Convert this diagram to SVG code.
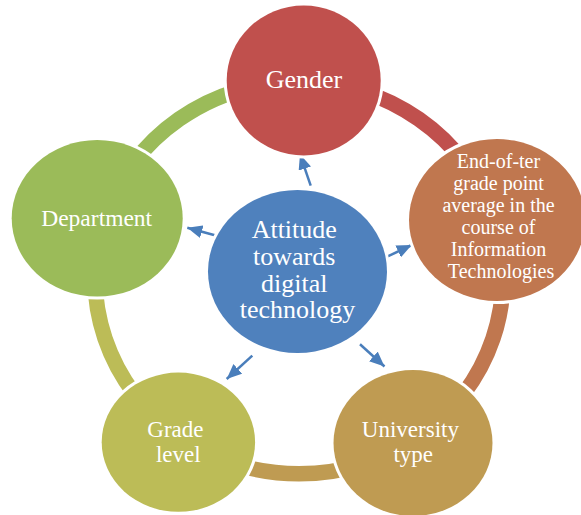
<svg xmlns="http://www.w3.org/2000/svg" width="581" height="515" viewBox="0 0 581 515">
  <style>
    .ring { fill: none; stroke-width: 15.5; stroke-linecap: butt; }
    .node { stroke: #ffffff; stroke-width: 6; paint-order: stroke; }
    .label { fill: #ffffff; font-family: "Liberation Serif", "Times New Roman", serif; text-anchor: middle; }
    .arrow { stroke: #4a7ebb; stroke-width: 2.5; fill: none; marker-end: url(#head); }
  </style>
  <defs>
    <marker id="head" viewBox="0 0 15 13" refX="15" refY="6.5" markerWidth="15" markerHeight="13" markerUnits="userSpaceOnUse" orient="auto">
      <path d="M0,0 L15,6.5 L0,13 Z" fill="#4a7ebb"/>
    </marker>
  </defs>
  <rect width="581" height="515" fill="#ffffff"/>

  <!-- cycle ring: one segment per node, coloured like the node it leaves -->
  <g id="connectors">
    <path class="ring" stroke="#c0504d" d="M299,81.8 A204,196 0 0 1 493,217.2"/>
    <path class="ring" stroke="#c0774f" d="M493,217.2 A204,196 0 0 1 418.9,436.4"/>
    <path class="ring" stroke="#bf9b52" d="M418.9,436.4 A204,196 0 0 1 179.1,436.4"/>
    <path class="ring" stroke="#bcbc57" d="M179.1,436.4 A204,196 0 0 1 105,217.2"/>
    <path class="ring" stroke="#9bbb59" d="M105,217.2 A204,196 0 0 1 299,81.8"/>
    <!-- spokes from the central node -->
    <line class="arrow" x1="310.7" y1="185.7" x2="300" y2="154.3"/>
    <line class="arrow" x1="216.7" y1="235.7" x2="187.3" y2="227.7"/>
    <line class="arrow" x1="385" y1="257.7" x2="411.7" y2="245"/>
    <line class="arrow" x1="252.3" y1="355.7" x2="226.7" y2="379"/>
    <line class="arrow" x1="360" y1="344.3" x2="384.5" y2="366.5"/>
  </g>

  <g id="gender">
    <ellipse class="node" cx="303.7" cy="80.5" rx="77" ry="75" fill="#c0504d"/>
    <text class="label" x="304" y="88.3" font-size="26">Gender</text>
  </g>

  <g id="gpa">
    <ellipse class="node" cx="497" cy="220" rx="88" ry="81" fill="#c0774f"/>
    <text class="label" font-size="20">
      <tspan x="501" y="167.7">End-of-ter</tspan>
      <tspan x="501" y="189.8">grade point</tspan>
      <tspan x="501" y="211.9">average in the</tspan>
      <tspan x="501" y="234">course of</tspan>
      <tspan x="501" y="256.1">Information</tspan>
      <tspan x="501" y="278.2">Technologies</tspan>
    </text>
  </g>

  <g id="university-type">
    <ellipse class="node" cx="413" cy="443" rx="79.5" ry="73" fill="#bf9b52"/>
    <text class="label" font-size="23">
      <tspan x="413.3" y="436.7">University</tspan>
      <tspan x="413.3" y="461.7">type</tspan>
    </text>
  </g>

  <g id="grade-level">
    <ellipse class="node" cx="178.4" cy="442.2" rx="76.7" ry="69.6" fill="#bcbc57"/>
    <text class="label" font-size="23">
      <tspan x="178.3" y="436.7">Grade</tspan>
      <tspan x="178.3" y="461.7">level</tspan>
    </text>
  </g>

  <g id="department">
    <ellipse class="node" cx="97.2" cy="218.3" rx="85.5" ry="78.3" fill="#9bbb59"/>
    <text class="label" x="96.7" y="226" font-size="23.5">Department</text>
  </g>

  <g id="attitude">
    <ellipse class="node" cx="297.5" cy="271.5" rx="89.5" ry="81.5" fill="#4f81bd"/>
    <text class="label" font-size="26">
      <tspan x="297.5" y="238.3">Attitude</tspan>
      <tspan x="297.5" y="265">towards</tspan>
      <tspan x="297.5" y="291.7">digital</tspan>
      <tspan x="297.5" y="318.3">technology</tspan>
    </text>
  </g>
</svg>
